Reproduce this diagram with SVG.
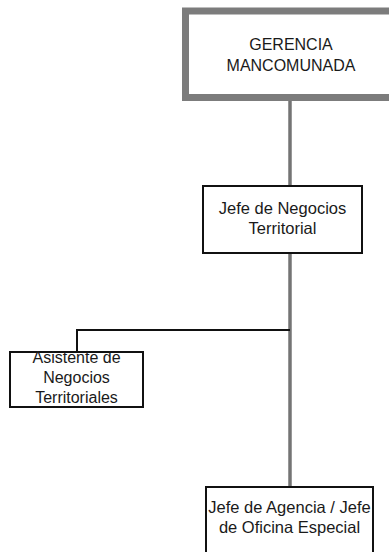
<svg xmlns="http://www.w3.org/2000/svg" width="389" height="552" viewBox="0 0 389 552">
  <style>
    .lbl { font-family: "Liberation Sans", Arial, sans-serif; font-size: 16px; fill: #1a1a1a; text-anchor: middle; }
    .big { font-size: 16.5px; }
    .box { fill: #ffffff; stroke: #111111; stroke-width: 2; }
    .top { fill: #ffffff; stroke: #7c7c7c; stroke-width: 7; }
    .gray { stroke: #747474; stroke-width: 3.5; fill: none; }
    .black { stroke: #111111; stroke-width: 2; fill: none; }
  </style>
  <rect width="389" height="552" fill="#ffffff"/>

  <!-- connectors -->
  <g id="connectors">
    <line class="gray" x1="290" y1="100" x2="290" y2="187"/>
    <line class="gray" x1="290" y1="253" x2="290" y2="487"/>
    <polyline class="black" points="290,330 77,330 77,352"/>
  </g>

  <!-- top management box -->
  <g id="gerencia">
    <rect class="top" x="185.5" y="11" width="220" height="86.5"/>
    <text class="lbl" x="291" y="50">GERENCIA</text>
    <text class="lbl" x="291" y="71">MANCOMUNADA</text>
  </g>

  <g id="jefe-negocios">
    <rect class="box" x="203" y="186" width="159" height="67"/>
    <text class="lbl big" x="282.5" y="214">Jefe de Negocios</text>
    <text class="lbl big" x="282.5" y="234">Territorial</text>
  </g>

  <g id="asistente">
    <rect class="box" x="10" y="352" width="133" height="55"/>
    <text class="lbl" x="76.5" y="363">Asistente de</text>
    <text class="lbl" x="76.5" y="383">Negocios</text>
    <text class="lbl" x="76.5" y="403">Territoriales</text>
  </g>

  <g id="jefe-agencia">
    <rect class="box" x="206" y="487" width="167" height="80"/>
    <text class="lbl big" x="289.5" y="513">Jefe de Agencia / Jefe</text>
    <text class="lbl big" x="289.5" y="533">de Oficina Especial</text>
  </g>
</svg>
